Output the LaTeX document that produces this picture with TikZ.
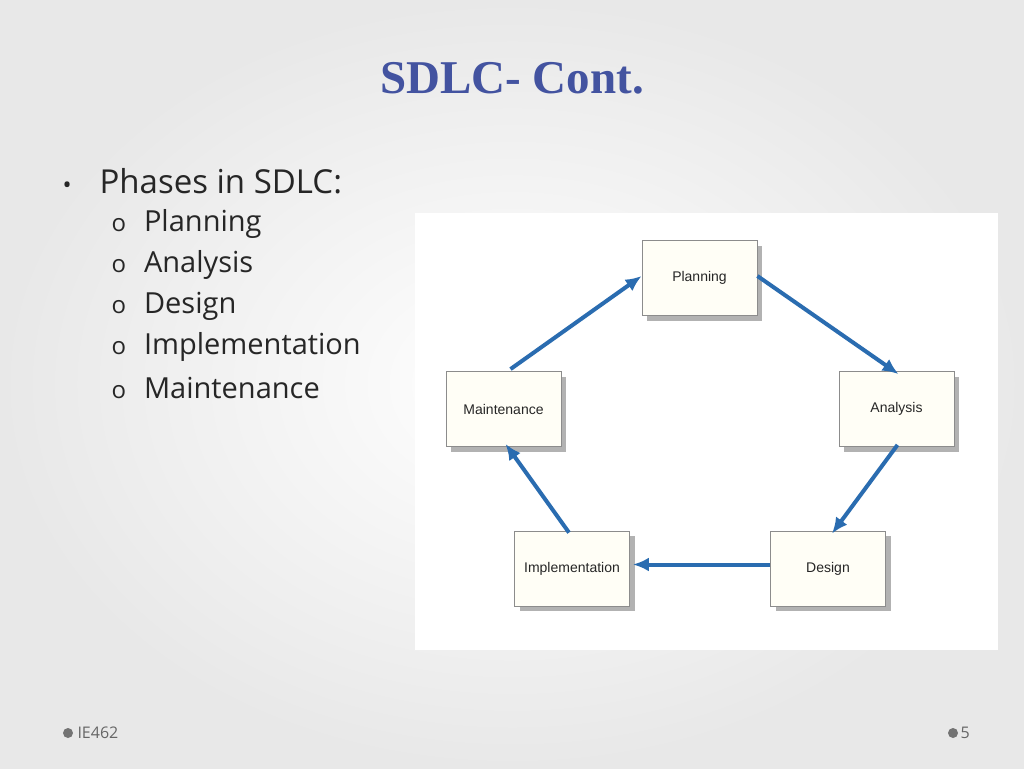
\documentclass[tikz,border=0pt]{standalone}
\usepackage{fontspec}
\setmainfont{Open Sans}
\newfontfamily\titlefont{Liberation Serif}
\newfontfamily\boxfont{Liberation Sans}
\usetikzlibrary{arrows.meta}
\definecolor{titleblue}{HTML}{4353A0}
\definecolor{arrowblue}{HTML}{2A6CB0}
\definecolor{boxfill}{HTML}{FFFEF6}
\tikzset{
  phase/.style={draw=black!45, line width=0.8pt, fill=boxfill, minimum width=115pt, minimum height=75pt, font=\boxfont\fontsize{14}{16}\selectfont, text=black!85},
  shadow/.style={fill=black!30},
  flow/.style={draw=arrowblue, line width=4pt, -{Latex[length=16pt,width=14pt]}},
  sub/.style={anchor=west, text=black!85},
}
\begin{document}
\begin{tikzpicture}[x=1pt,y=-1pt]
\useasboundingbox (0,0) rectangle (1024,768);
\shade[inner color=white, outer color=black!9] (0,0) rectangle (1024,768);
\node (title) at (512,78) {\titlefont\bfseries\fontsize{47}{50}\selectfont\color{titleblue}SDLC- Cont.};
\node[anchor=west, font=\fontsize{33}{36}\selectfont, text=black!85] (phases) at (59,181) {\fontsize{24}{24}\selectfont\textbullet\hspace{28pt}\fontsize{33}{36}\selectfont Phases in SDLC:};
\foreach \t/\y [count=\i] in {Planning/224, Analysis/265, Design/306, Implementation/347, Maintenance/388}
  \node[sub] (s\i) at (108,\y) {\fontsize{24}{24}\selectfont o\hspace{18pt}\fontsize{29}{32}\selectfont\t};
\fill[white] (415,213) rectangle (998,650);
\foreach \x/\y in {699.5/278, 896.5/409, 828/568.5, 572/568.5, 503.5/409}
  \fill[shadow] (\x-57.5+5,\y-37.5+5) rectangle (\x+57.5+5,\y+37.5+5);
\node[phase] (plan) at (699.5,278) {Planning};
\node[phase] (ana) at (896.5,409) {Analysis};
\node[phase] (des) at (828,568.5) {Design};
\node[phase] (imp) at (572,568.5) {Implementation};
\node[phase] (mai) at (503.5,409) {Maintenance};
\draw[flow] (mai.north)+(7,-2) -- ([yshift=2pt]plan.west);
\draw[flow] ([yshift=2pt]plan.east) -- ([xshift=2pt,yshift=-3pt]ana.north);
\draw[flow] ([xshift=1pt,yshift=2pt]ana.south) -- ([xshift=4pt,yshift=-3pt]des.north);
\draw[flow] ([yshift=4pt]des.west) -- ([xshift=3pt,yshift=4pt]imp.east);
\draw[flow] ([xshift=-3pt,yshift=-2pt]imp.north) -- ([xshift=2pt,yshift=3pt]mai.south);
\fill[black!55] (68,733) circle (5);
\node[anchor=west, font=\fontsize{16}{18}\selectfont, text=black!60] (foot) at (74,733) {IE462};
\fill[black!55] (953,733) circle (5);
\node[anchor=west, font=\fontsize{16}{18}\selectfont, text=black!60] (pg) at (957,733) {5};
\end{tikzpicture}
\end{document}
